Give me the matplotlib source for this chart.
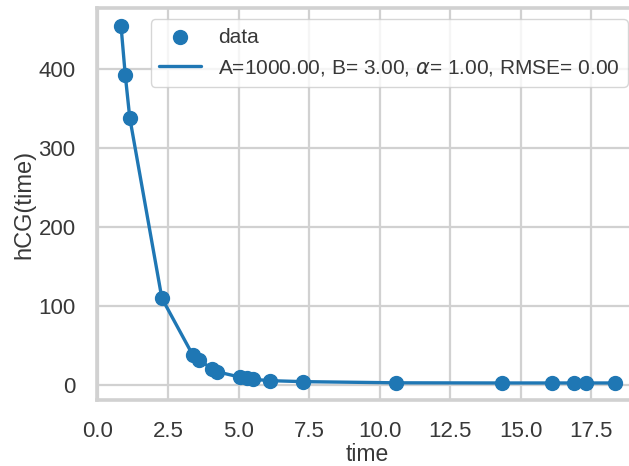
import matplotlib
matplotlib.use("Agg")
import matplotlib.pyplot as plt
import seaborn as sns

# measured hCG decay
time = [0.82, 0.97, 1.13, 2.27, 3.37, 3.59, 4.06, 4.21, 5.03, 5.30,
        5.51, 6.12, 7.26, 10.58, 14.35, 16.13, 16.91, 17.31, 18.34]
hcg = [454, 392, 338, 110, 38, 31.5, 21, 17.3, 10.5, 8.8,
       7.6, 5.9, 4.7, 3.2, 3.0, 3.0, 3.0, 3.0, 3.0]

fit_label = r"A=1000.00, B= 3.00, $\alpha$= 1.00, RMSE= 0.00"

sns.set_theme(style="whitegrid")
plt.rcParams["font.family"] = ["Liberation Sans", "DejaVu Sans"]
plt.rcParams["mathtext.fontset"] = "dejavusans"

fig = plt.figure(figsize=(6.29, 4.66), dpi=100)
# axes run a little past the right edge of the canvas
ax = fig.add_axes([96.5 / 629, 66 / 466, (639 - 96.5) / 629, 392 / 466])

ax.scatter(time, hcg, s=100, color="#1f77b4", zorder=3, label="data")
ax.plot(time, hcg, color="#1f77b4", lw=2.4, label=fit_label)

ax.set_xlim(-0.05, 19.2)
ax.set_ylim(-18.5, 476.5)
ax.set_xticks([0.0, 2.5, 5.0, 7.5, 10.0, 12.5, 15.0, 17.5])
ax.set_yticks([0, 100, 200, 300, 400])
ax.tick_params(labelsize=16, colors="0.22", pad=9)
ax.set_xlabel("time", fontsize=16.5, color="0.22", labelpad=1)
ax.set_ylabel("hCG(time)", fontsize=17, color="0.22", labelpad=2)

ax.grid(True, color="0.82", lw=1.6)
for s in ax.spines.values():
    s.set_color("0.82")
    s.set_linewidth(2.6)

ax.legend(loc="upper right", fontsize=15, frameon=True, borderaxespad=0.55,
          labelcolor="0.22", handlelength=2.0, labelspacing=0.55)

fig.savefig("out.png", dpi=100)
